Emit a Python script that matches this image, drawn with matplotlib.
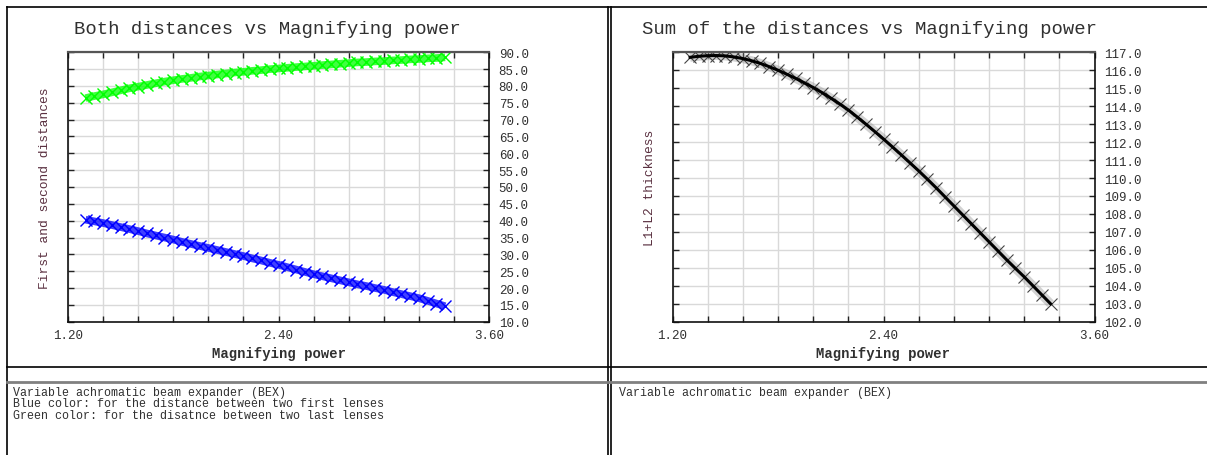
import matplotlib.pyplot as plt
from matplotlib.lines import Line2D
from matplotlib.ticker import MultipleLocator, FixedLocator, FormatStrFormatter

plt.switch_backend("Agg")
plt.rcParams["font.family"] = ["Liberation Mono", "DejaVu Sans Mono"]

W, H = 1207, 456

# magnifying power (x)
power = [1.30, 1.35, 1.40, 1.45, 1.50, 1.55, 1.60, 1.65, 1.70, 1.75, 1.80, 1.85, 1.90, 1.95,
         2.00, 2.05, 2.10, 2.15, 2.20, 2.25, 2.30, 2.35, 2.40, 2.45, 2.50, 2.55, 2.60, 2.65,
         2.70, 2.75, 2.80, 2.85, 2.90, 2.95, 3.00, 3.05, 3.10, 3.15, 3.20, 3.25, 3.30, 3.35]

# distance between the two last lenses (green)
second_dist = [76.4, 77.0, 77.5, 78.1, 78.7, 79.3, 79.8, 80.3, 80.8, 81.3, 81.7, 82.1, 82.4, 82.8,
               83.1, 83.4, 83.7, 84.0, 84.2, 84.5, 84.7, 85.0, 85.2, 85.4, 85.6, 85.8, 86.0, 86.2,
               86.4, 86.6, 86.8, 87.0, 87.1, 87.3, 87.4, 87.6, 87.7, 87.9, 88.0, 88.2, 88.3, 88.5]

# distance between the two first lenses (blue)
first_dist = [40.3, 39.8, 39.3, 38.7, 38.1, 37.5, 36.9, 36.2, 35.6, 35.0, 34.4, 33.7, 33.1, 32.5,
              31.9, 31.3, 30.7, 30.1, 29.5, 28.8, 28.2, 27.5, 26.9, 26.2, 25.5, 24.8, 24.1, 23.5,
              22.9, 22.3, 21.7, 21.1, 20.6, 20.0, 19.5, 18.8, 18.2, 17.6, 17.0, 16.2, 15.4, 14.6]

# L1+L2 thickness (black)
sum_dist = [116.72, 116.78, 116.81, 116.82, 116.80, 116.74, 116.65, 116.53, 116.38, 116.20,
            116.00, 115.78, 115.55, 115.30, 115.04, 114.76, 114.45, 114.13, 113.79, 113.40,
            113.00, 112.59, 112.17, 111.74, 111.30, 110.85, 110.40, 109.93, 109.45, 108.95,
            108.45, 107.95, 107.45, 106.95, 106.45, 105.95, 105.45, 104.97, 104.50, 104.00,
            103.50, 103.00]

x_ticks = [1.20, 2.40, 3.60]
notes_left = ["Variable achromatic beam expander (BEX)",
              "Blue color: for the distance between two first lenses",
              "Green color: for the disatnce between two last lenses"]
notes_right = ["Variable achromatic beam expander (BEX)"]

TXT = "#303030"


def fx(px):
    return px / W


def fy(py):
    return 1 - py / H


def style_axes(ax, ylim, ystep, ylabel):
    ax.set_xlim(1.2, 3.6)
    ax.set_ylim(*ylim)
    ax.xaxis.set_major_locator(FixedLocator(x_ticks))
    ax.xaxis.set_minor_locator(MultipleLocator(0.2))
    ax.xaxis.set_major_formatter(FormatStrFormatter("%.2f"))
    ax.yaxis.set_major_locator(MultipleLocator(ystep))
    ax.yaxis.set_major_formatter(FormatStrFormatter("%.1f"))
    ax.yaxis.tick_right()
    ax.tick_params(which="both", direction="in", top=True, bottom=True, left=True, right=True,
                   labelleft=False, labelright=True, length=4, width=1, colors="#222222",
                   labelcolor=TXT, labelsize=9)
    ax.tick_params(axis="x", which="major", pad=5)
    ax.tick_params(axis="y", pad=7)
    ax.grid(True, which="both", color="#d9d9d9", linewidth=1)
    ax.set_axisbelow(True)
    for s in ax.spines.values():
        s.set_linewidth(1.2)
        s.set_color("#111111")
    ax.spines["top"].set_color("#555555")
    ax.spines["top"].set_linewidth(1.6)
    ax.set_xlabel("Magnifying power", fontsize=10, fontweight="bold", color=TXT, labelpad=4)
    ax.yaxis.set_label_position("left")
    ax.set_ylabel(ylabel, fontsize=9.3, color="#5a3040", labelpad=12)


fig = plt.figure(figsize=(W / 100, H / 100), dpi=100)

ax1 = fig.add_axes([fx(68), fy(322.7), fx(421), (322.7 - 53.3) / H])
ax1.plot(power, first_dist, color="#0000ff", lw=5.5, alpha=0.75, solid_capstyle="butt")
ax1.plot(power, first_dist, "x", color="#0000ff", ms=8, mew=1)
ax1.plot(power, second_dist, color="#00ff00", lw=5.5, alpha=0.75, solid_capstyle="butt")
ax1.plot(power, second_dist, "x", color="#00ff00", ms=8, mew=1)
style_axes(ax1, (10, 90), 5, "First and second distances")

ax2 = fig.add_axes([fx(672.5), fy(322.7), fx(422), (322.7 - 53.3) / H])
ax2.plot(power, sum_dist, color="#808080", lw=6.5, alpha=0.35, solid_capstyle="butt")
ax2.plot(power, sum_dist, "x", color="#444444", ms=8, mew=0.8)
ax2.plot(power, sum_dist, color="black", lw=2.2)
style_axes(ax2, (102, 117), 1, "L1+L2 thickness")

fig.text(fx(267.5), fy(30), "Both distances vs Magnifying power", ha="center", va="center",
         fontsize=13.6, color=TXT)
fig.text(fx(869.5), fy(30), "Sum of the distances vs Magnifying power", ha="center", va="center",
         fontsize=13.6, color=TXT)

for i, line in enumerate(notes_left):
    fig.text(fx(13), fy(393 + 11.5 * i), line, ha="left", va="center", fontsize=8.4, color=TXT)
for i, line in enumerate(notes_right):
    fig.text(fx(619), fy(393 + 11.5 * i), line, ha="left", va="center", fontsize=8.4, color=TXT)

# panel frame lines
frame = [
    ((7, 1207), (8, 8), "black", 1.2),
    ((7, 7), (8, 456), "black", 1.2),
    ((607.5, 607.5), (8, 456), "black", 1.2),
    ((611, 611), (8, 456), "black", 1.2),
    ((7, 1207), (368, 368), "black", 1.2),
    ((7, 1207), (383, 383), "#808080", 2),
]
for xs, ys, c, lw in frame:
    fig.add_artist(Line2D([fx(v) for v in xs], [fy(v) for v in ys], color=c, lw=lw))

fig.savefig("out.png", dpi=100)
